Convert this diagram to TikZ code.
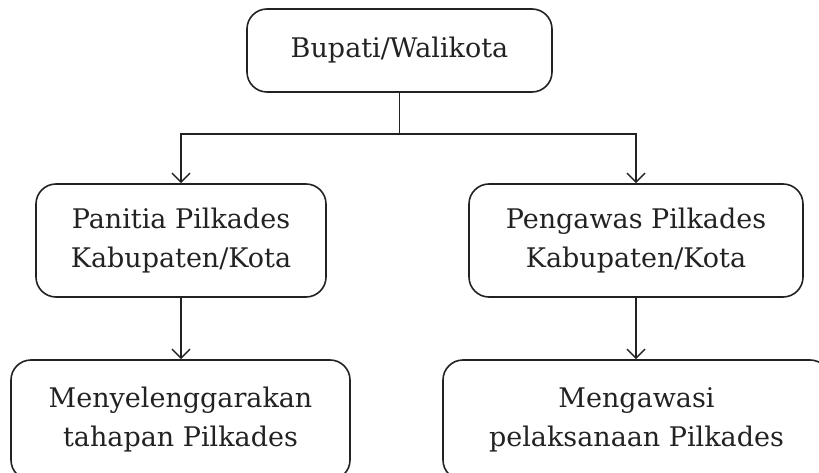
\documentclass[tikz,border=0pt]{standalone}
\usepackage{fontspec}
\setmainfont{DejaVu Serif}
\usetikzlibrary{arrows.meta}
\definecolor{ink}{HTML}{222222}
\begin{document}
\begin{tikzpicture}[x=1pt,y=-1pt,
  box/.style={draw=ink, line width=1.6pt, rounded corners=20pt, align=center,
    inner sep=0pt, text=ink, font=\fontsize{27}{39}\selectfont},
  conn/.style={draw=ink, line width=1.4pt},
  arr/.style={conn, -{Straight Barb[length=9pt,width=18pt,line width=1.4pt]}}]
\useasboundingbox (0,0) rectangle (819,473);
\clip (0,0) rectangle (819,473);
\node[box, minimum width=305pt, minimum height=83pt] (top) at (399.5,50.5) {Bupati/Walikota};
\node[box, minimum width=290pt, minimum height=113pt] (lm) at (181,240.5) {Panitia Pilkades\\Kabupaten/Kota};
\node[box, minimum width=334pt, minimum height=113pt] (rm) at (636,240.5) {Pengawas Pilkades\\Kabupaten/Kota};
\node[box, minimum width=339pt, minimum height=120pt] (lb) at (180.5,420) {Menyelenggarakan\\tahapan Pilkades};
\node[box, minimum width=387pt, minimum height=120pt] (rb) at (636.5,420) {Mengawasi\\pelaksanaan Pilkades};
\coordinate (j) at (399.5,134);
\draw[conn] (top.south) -- (j);
\draw[arr] (j) -| (lm.north);
\draw[arr] (j) -| (rm.north);
\draw[arr] (lm.south) -- (lm.south |- lb.north);
\draw[arr] (rm.south) -- (rm.south |- rb.north);
\end{tikzpicture}
\end{document}
